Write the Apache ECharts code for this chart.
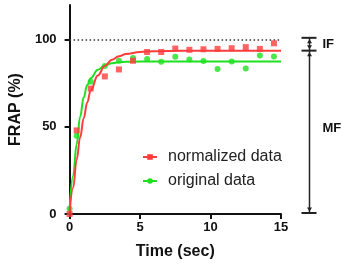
<!DOCTYPE html>
<html>
<head>
<meta charset="utf-8">
<script src="https://cdn.jsdelivr.net/npm/echarts@6/dist/echarts.min.js"></script>
<style>
html,body{margin:0;padding:0;background:#fff;}
#chart{width:350px;height:265px;}
</style>
</head>
<body>
<div id="chart"></div>
<script>
// Measured data points (time in sec, FRAP %)
const times = [0, 0.5, 1.5, 2.5, 3.5, 4.5, 5.5, 6.5, 7.5, 8.5, 9.5, 10.5, 11.5, 12.5, 13.5, 14.5];
const normalized = [0, 48, 72, 79, 83, 88, 93, 93, 95, 94.3, 94.6, 94.8, 95.2, 95.8, 94.8, 98];
const original = [3, 45, 76, 85, 88, 89.5, 89, 87.4, 90.3, 88.7, 87.9, 83.3, 87.5, 83.5, 91, 90.4];

// Fitted recovery curves
const fitTimes = [0, 0.25, 0.5, 0.75, 1, 1.25, 1.5, 2, 2.5, 3, 3.5, 4, 5, 6, 8, 10, 15];
const normalizedFit = [1, 15, 31, 44, 55, 64, 71, 79.5, 85, 88.5, 90.6, 91.9, 93, 93.5, 93.8, 93.8, 93.8];
const originalFit = [3, 22, 40, 56, 67, 74, 78, 82.8, 85.3, 86.5, 87.1, 87.4, 87.5, 87.5, 87.5, 87.5, 87.5];

// Axis ticks and reference levels
const xTicks = [0, 5, 10, 15];
const yTicks = [0, 50, 100];
const fullLevel = 100;
const plateauLevel = 93.8;

const RED = '#ff3c3c';
const GREEN = '#1ee01e';
const FONT = 'Arial, "Liberation Sans", sans-serif';

const zip = (xs, ys) => xs.map((x, i) => [x, ys[i]]);

const chart = echarts.init(document.getElementById('chart'), null, {renderer: 'canvas'});

const option = {
  animation: false,
  backgroundColor: '#fff',
  grid: {left: 58, right: 69, top: 5, bottom: 51, containLabel: false},
  legend: {
    left: 137, top: 144, orient: 'vertical',
    itemWidth: 14, itemHeight: 7, itemGap: 8,
    data: ['normalized data', 'original data'],
    textStyle: {fontFamily: FONT, fontSize: 16, color: '#222', padding: [0, 0, 0, 6]}
  },
  xAxis: {
    type: 'value', min: 0, max: 15, interval: 5,
    name: 'Time (sec)', nameLocation: 'middle', nameGap: 30,
    nameTextStyle: {fontFamily: FONT, fontSize: 16, fontWeight: 'bold', color: '#111'},
    axisLine: {show: true, onZero: false, lineStyle: {color: '#111', width: 2}},
    axisTick: {show: true, length: 5, lineStyle: {color: '#111', width: 2}, customValues: xTicks},
    axisLabel: {fontFamily: FONT, fontSize: 13, fontWeight: 'bold', color: '#111', margin: 7, customValues: xTicks},
    splitLine: {show: false}
  },
  yAxis: {
    type: 'value', min: 0, max: 120,
    name: 'FRAP (%)', nameLocation: 'middle', nameGap: 33, nameRotate: 90,
    nameTextStyle: {fontFamily: FONT, fontSize: 16, fontWeight: 'bold', color: '#111'},
    axisLine: {show: true, onZero: false, lineStyle: {color: '#111', width: 2}},
    axisTick: {show: true, length: 5, lineStyle: {color: '#111', width: 2}, customValues: yTicks},
    axisLabel: {fontFamily: FONT, fontSize: 13, fontWeight: 'bold', color: '#111', margin: 13, customValues: yTicks},
    splitLine: {show: false}
  },
  series: [
    {
      name: 'original data', type: 'line', data: zip(fitTimes, originalFit),
      smooth: 0.4, smoothMonotone: 'x', symbol: 'circle', showSymbol: false, symbolSize: 5,
      lineStyle: {color: GREEN, width: 2}, itemStyle: {color: GREEN}, z: 2
    },
    {
      name: 'original points', type: 'scatter', data: zip(times, original),
      symbol: 'circle', symbolSize: 6, itemStyle: {color: GREEN}, z: 3
    },
    {
      name: 'normalized data', type: 'line', data: zip(fitTimes, normalizedFit),
      smooth: 0.4, smoothMonotone: 'x', symbol: 'rect', showSymbol: false, symbolSize: 5,
      lineStyle: {color: RED, width: 2}, itemStyle: {color: RED}, z: 4,
      markLine: {
        silent: true, symbol: 'none', label: {show: false},
        lineStyle: {type: [1.5, 2.5], color: '#333', width: 1.5},
        data: [{yAxis: fullLevel}]
      }
    },
    {
      name: 'normalized points', type: 'scatter', data: zip(times, normalized),
      symbol: 'rect', symbolSize: 6, itemStyle: {color: RED}, z: 5
    }
  ]
};
chart.setOption(option);

// Right-hand IF / MF bracket, positioned through the axes
function drawBracket() {
  const xEnd = chart.convertToPixel({xAxisIndex: 0}, 15);
  const bx = Math.round(xEnd + 28) + 0.5;
  const yTop = chart.convertToPixel({yAxisIndex: 0}, fullLevel) - 2;
  const yMid = chart.convertToPixel({yAxisIndex: 0}, plateauLevel);
  const yBot = chart.convertToPixel({yAxisIndex: 0}, 0) - 1;
  const c = '#222';
  const cap = (y) => ({type: 'line', shape: {x1: bx - 8, y1: y, x2: bx + 7, y2: y}, style: {stroke: c, lineWidth: 2}});
  const arrowUp = (y) => ({type: 'polygon', shape: {points: [[bx, y], [bx - 2.5, y + 4], [bx + 2.5, y + 4]]}, style: {fill: c}});
  const arrowDown = (y) => ({type: 'polygon', shape: {points: [[bx, y], [bx - 2.5, y - 4], [bx + 2.5, y - 4]]}, style: {fill: c}});
  const elements = [
    {type: 'line', shape: {x1: bx, y1: yTop, x2: bx, y2: yMid}, style: {stroke: c, lineWidth: 1.5}},
    {type: 'line', shape: {x1: bx, y1: yMid, x2: bx, y2: yBot}, style: {stroke: c, lineWidth: 1.5}},
    cap(yTop), cap(yMid), cap(yBot),
    arrowUp(yTop + 1.5), arrowDown(yMid - 1.5),
    arrowUp(yMid + 1.5), arrowDown(yBot - 1.5),
    {type: 'text', x: bx + 13, y: (yTop + yMid) / 2, style: {text: 'IF', fontFamily: FONT, fontSize: 13, fontWeight: 'bold', fill: '#111', verticalAlign: 'middle', align: 'left'}},
    {type: 'text', x: bx + 13, y: (yMid + yBot) / 2 - 3, style: {text: 'MF', fontFamily: FONT, fontSize: 13, fontWeight: 'bold', fill: '#111', verticalAlign: 'middle', align: 'left'}}
  ];
  chart.setOption({graphic: {elements: elements}});
}
drawBracket();
</script>
</body>
</html>
